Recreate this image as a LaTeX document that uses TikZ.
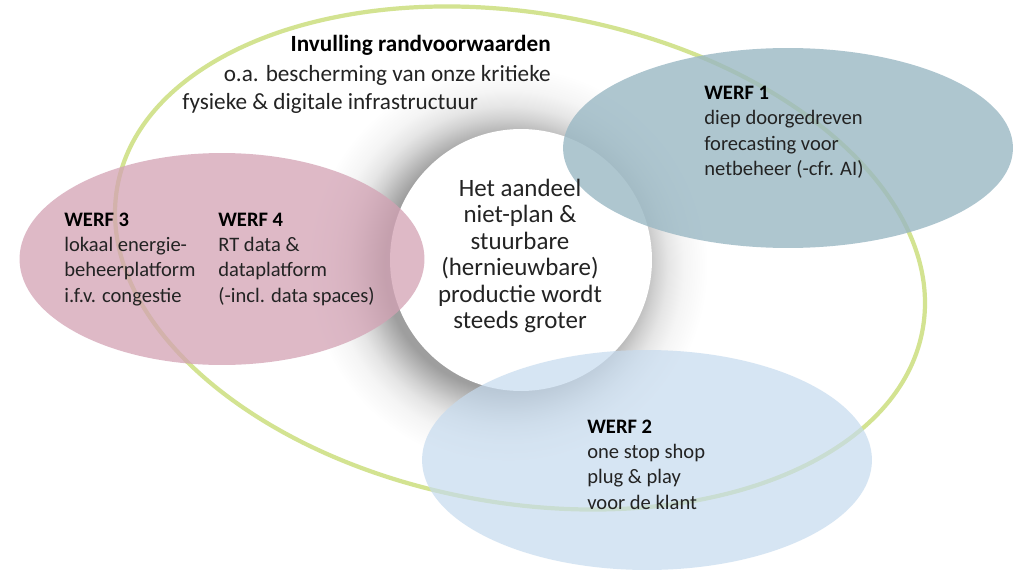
\documentclass[tikz,border=0pt]{standalone}
\usepackage{fontspec}
\setmainfont{Carlito}
\usetikzlibrary{shapes.geometric}
\definecolor{greenline}{RGB}{211,227,145}
\definecolor{pinkf}{RGB}{211,162,180}
\definecolor{bluegreyf}{RGB}{154,184,196}
\definecolor{lightbluef}{RGB}{198,219,239}
\definecolor{txt}{RGB}{35,35,35}
\pgfdeclareradialshading{softshadow}{\pgfpoint{0bp}{0bp}}{color(0bp)=(black!38); color(15.5bp)=(black!38); color(17bp)=(black!28); color(18.5bp)=(black!18); color(20bp)=(black!10); color(22bp)=(black!4); color(25bp)=(white); color(50bp)=(white)}
\begin{document}
\begin{tikzpicture}[x=0.02cm,y=-0.02cm,
  werf/.style={anchor=base west,inner sep=0pt,text=txt,font=\fontsize{11.7}{14.5}\selectfont},
  toptext/.style={inner sep=0pt,text=txt,font=\fontsize{13.2}{16.4}\selectfont},
  coretext/.style={anchor=base,inner sep=0pt,text=txt,font=\fontsize{14.2}{15.1}\selectfont},
  blob/.style={ellipse,inner sep=0pt,draw=none}]
\fill[white] (0,0) rectangle (1020,571);
\useasboundingbox (0,0) rectangle (1020,571);
% soft shadow of the central circle
\shade[shading=softshadow] (508,266) circle[radius=4cm];
% frame ellipse
\draw[greenline,line width=2.4pt,rotate around={-10:(520,258)}] (520,258) ellipse[x radius=8.18cm,y radius=4.9cm];
% central circle
\node[circle,fill=white,minimum size=5.24cm,inner sep=0pt] (core) at (521,260) {};
% coloured ellipses
\node[blob,fill=pinkf,fill opacity=0.75,minimum width=8.1cm,minimum height=4.24cm] (e34) at (222,259) {};
\node[blob,fill=bluegreyf,fill opacity=0.8,minimum width=9cm,minimum height=4cm] (e1) at (788,148) {};
\node[blob,fill=lightbluef,fill opacity=0.7,minimum width=9cm,minimum height=4.4cm] (e2) at (647,460) {};
% texts
\node[toptext,anchor=base east] (t1) at (551,52) {\textbf{\color{black}Invulling randvoorwaarden}};
\node[toptext,anchor=base east] (t2) at (551,82) {o.a. bescherming van onze kritieke};
\node[toptext,anchor=base west] (t3) at (182,110) {fysieke \& digitale infrastructuur};
\node[coretext] (ct) at (520,196) {\begin{tabular}[t]{@{}c@{}}Het aandeel\\niet-plan \&\\stuurbare\\(hernieuwbare)\\productie wordt\\steeds groter\end{tabular}};
\node[werf] (w1) at (704,99.3) {\begin{tabular}[t]{@{}l@{}}\textbf{\color{black}WERF 1}\\diep doorgedreven\\forecasting voor\\netbeheer (-cfr. AI)\end{tabular}};
\node[werf] (w2) at (587,433) {\begin{tabular}[t]{@{}l@{}}\textbf{\color{black}WERF 2}\\one stop shop\\plug \& play\\voor de klant\end{tabular}};
\node[werf] (w3) at (64,226) {\begin{tabular}[t]{@{}l@{}}\textbf{\color{black}WERF 3}\\lokaal energie-\\beheerplatform\\i.f.v. congestie\end{tabular}};
\node[werf] (w4) at (218,226) {\begin{tabular}[t]{@{}l@{}}\textbf{\color{black}WERF 4}\\RT data \&\\dataplatform\\(-incl. data spaces)\end{tabular}};
\end{tikzpicture}
\end{document}
